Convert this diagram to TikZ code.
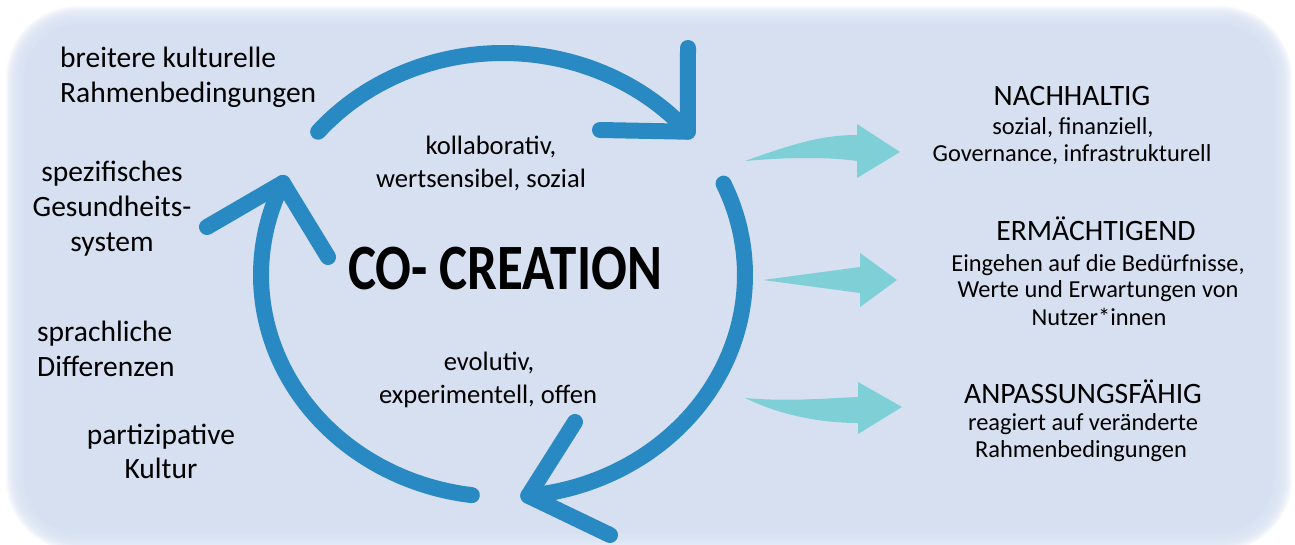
\documentclass[tikz,border=0pt]{standalone}
\usepackage{fontspec}
\setmainfont{Carlito}
\definecolor{bgc}{RGB}{214,224,241}
\definecolor{cblue}{RGB}{41,137,194}
\definecolor{ccyan}{RGB}{126,207,214}
\begin{document}
\begin{tikzpicture}[x=1pt,y=-1pt,
  cyc/.style={draw=cblue, line width=16pt, line cap=round, line join=round},
  flow/.style={fill=ccyan},
  lt/.style={font=\fontsize{29.5}{35}\selectfont, inner sep=0pt},
  mt/.style={font=\fontsize{26.6}{33}\selectfont, inner sep=0pt},
  ht/.style={font=\fontsize{29.6}{35}\selectfont, inner sep=0pt},
  bt/.style={font=\fontsize{24.4}{28}\selectfont, inner sep=0pt},
  tt/.style={font=\fontsize{53}{60}\selectfont\bfseries, inner sep=0pt}]
\useasboundingbox (0,0) rectangle (1295,545);
% background with soft edge
\foreach \i in {0,...,11}{
  \fill[bgc, opacity=0.2, rounded corners={(72-1.5*\i)*1pt}]
    ({6+1.5*\i},{6+1.5*\i}) rectangle ({1292-1.5*\i},{551-1.5*\i});
}
\fill[bgc, rounded corners=54pt] (24,24) rectangle (1274,533);
% cycle arcs
\draw[cyc] plot[domain=139.8:40.2, samples=60] ({503+242*cos(\x)},{275-222*sin(\x)}) coordinate (c1);
\coordinate (c1a) at (688,48);
\coordinate (c1b) at (600,130);
\draw[cyc] (c1a) -- (c1) -- (c1b);
\draw[cyc] plot[domain=24.3:-84, samples=80] ({503+242*cos(\x)},{275-222*sin(\x)}) coordinate (c2);
\coordinate (c2a) at (575,422);
\coordinate (c2b) at (610,535);
\draw[cyc] (c2a) -- (c2) -- (c2b);
\draw[cyc] plot[domain=262.6:155.5, samples=80] ({503+242*cos(\x)},{275-222*sin(\x)}) coordinate (c3);
\coordinate (c3a) at (207,227);
\coordinate (c3b) at (328,257);
\draw[cyc] (c3a) -- (c3) -- (c3b);
% cyan flow arrows
\fill[flow] (745,161) .. controls (790,145) and (820,135) .. (857,135) -- (857,124) -- (900,152) -- (857,178) -- (857,161) .. controls (830,157) and (790,157) .. (745,161) -- cycle;
\fill[flow] (763,280) -- (860,267) -- (860,253) -- (897,280) -- (860,307) -- (860,293) -- cycle;
\fill[flow] (745,398) .. controls (790,402) and (830,398) .. (858,397) -- (858,382) -- (902,407) -- (858,434) -- (858,423) .. controls (820,423) and (780,415) .. (745,398) -- cycle;
% left texts
\node[lt, anchor=base west] (l1a) at (60,68) {breitere kulturelle};
\node[lt, anchor=base west] (l1b) at (60,103) {Rahmenbedingungen};
\node[lt, anchor=base] (l2a) at (112,182) {spezifisches};
\node[lt, anchor=base] (l2b) at (112,217) {Gesundheits-};
\node[lt, anchor=base] (l2c) at (112,252) {system};
\node[lt, anchor=base west] (l3a) at (37,341) {sprachliche};
\node[lt, anchor=base west] (l3b) at (37,376) {Differenzen};
\node[lt, anchor=base] (l4a) at (161,444) {partizipative};
\node[lt, anchor=base] (l4b) at (161,478) {Kultur};
% middle texts
\node[mt, anchor=base] (m1a) at (491,155) {kollaborativ,};
\node[mt, anchor=base] (m1b) at (481,188) {wertsensibel, sozial};
\node[tt, anchor=base] (title) at (505,290) {\scalebox{1}[1.22]{CO- CREATION}};
\node[mt, anchor=base] (m2a) at (489,370) {evolutiv,};
\node[mt, anchor=base] (m2b) at (488,403) {experimentell, offen};
% right texts
\node[ht, anchor=base] (r1) at (1072,106) {NACHHALTIG};
\node[bt, anchor=base] (r1a) at (1073,135) {sozial, finanziell,};
\node[bt, anchor=base] (r1b) at (1072,162) {Governance, infrastrukturell};
\node[ht, anchor=base] (r2) at (1096,241) {ERMÄCHTIGEND};
\node[bt, anchor=base] (r2a) at (1098,272) {Eingehen auf die Bedürfnisse,};
\node[bt, anchor=base] (r2b) at (1098,298) {Werte und Erwartungen von};
\node[bt, anchor=base] (r2c) at (1099,325) {Nutzer*innen};
\node[ht, anchor=base] (r3) at (1083,403) {ANPASSUNGSFÄHIG};
\node[bt, anchor=base] (r3a) at (1083,430) {reagiert auf veränderte};
\node[bt, anchor=base] (r3b) at (1081,457) {Rahmenbedingungen};
\end{tikzpicture}
\end{document}
